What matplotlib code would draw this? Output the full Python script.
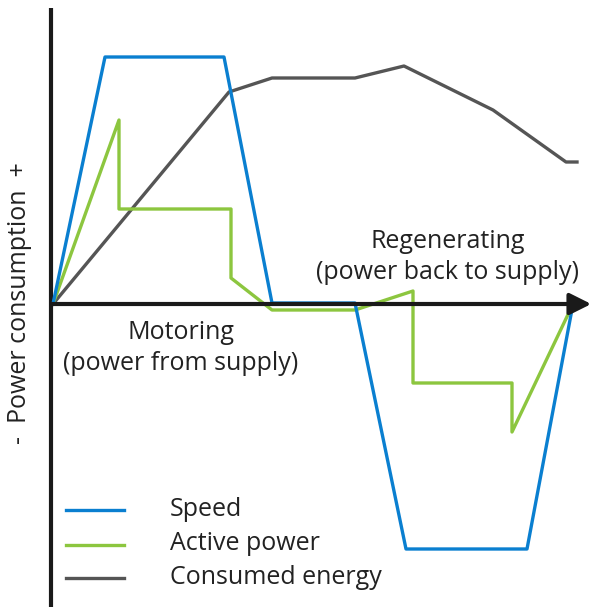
import matplotlib.pyplot as plt

plt.rcParams['font.family'] = ['Open Sans', 'DejaVu Sans']

# time axis (arbitrary units) and signal levels (above/below the time axis)
speed_t = [0, 52, 171, 219, 302, 353, 474, 520]
speed_v = [0, 247, 247, 1, 1, -245, -245, 0]

power_t = [0, 66, 66, 178, 178, 219, 302, 360, 360, 459, 459, 520]
power_v = [0, 184, 95, 95, 26, -6, -6, 13, -79, -79, -128, 0]

energy_t = [0, 176, 219, 302, 351, 440, 513, 524]
energy_v = [0, 212, 226, 226, 238, 194, 142, 142]

labels = ["Speed", "Active power", "Consumed energy"]
colors = ["#0a7fd0", "#8cc63f", "#555555"]

fig = plt.figure(figsize=(5.95, 6.07), dpi=100)
ax = fig.add_axes([0, 0, 1, 1])
x0, y0 = 53, 304   # where the origin sits on the canvas
ax.set_xlim(-x0, 595 - x0)
ax.set_ylim(y0 - 607, y0)
ax.axis('off')

# axes drawn by hand
ax.plot([-2, -2], [y0 - 607, y0 - 8], color="#1a1a1a", lw=3, solid_capstyle='butt')
ax.annotate("", xy=(541, 0), xytext=(-4, 0),
            arrowprops=dict(arrowstyle="-|>,head_length=1.3,head_width=0.65", color="#1a1a1a", lw=3))

ax.plot(energy_t, energy_v, color=colors[2], lw=2.4)
ax.plot(power_t, power_v, color=colors[1], lw=2.4)
ax.plot(speed_t, speed_v, color=colors[0], lw=2.4)

fs = 18
ax.text(395, 47, "Regenerating\n(power back to supply)", ha='center', va='center',
        fontsize=fs, color="#222222", linespacing=1.33)
ax.text(128, -44, "Motoring\n(power from supply)", ha='center', va='center',
        fontsize=fs, color="#222222", linespacing=1.33)
ax.text(-33, 1, "-  Power consumption  +", rotation=90, ha='center', va='center',
        fontsize=fs, color="#222222")

# legend drawn by hand
leg_y = [-206, -241, -274]
for yy, lab, c in zip(leg_y, labels, colors):
    ax.plot([13, 71], [yy, yy], color=c, lw=2.4)
    ax.text(117, yy + 1, lab, ha='left', va='center', fontsize=fs, color="#222222")

fig.savefig("out.png", dpi=100)
